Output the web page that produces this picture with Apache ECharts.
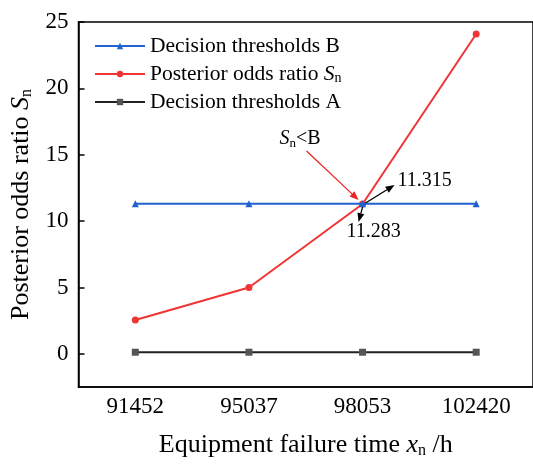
<!DOCTYPE html>
<html>
<head>
<meta charset="utf-8">
<script src="https://cdn.jsdelivr.net/npm/echarts@6/dist/echarts.min.js"></script>
<style>
  html, body { margin: 0; padding: 0; background: #fff; }
  #chart { width: 533px; height: 464px; }
</style>
</head>
<body>
<div id="chart"></div>
<script>
var categories = ['91452', '95037', '98053', '102420'];
var thresholdB = [11.315, 11.315, 11.315, 11.315];
var oddsRatio = [2.55, 5.0, 11.283, 24.1];
var thresholdA = [0.12, 0.12, 0.12, 0.12];
var yTicks = [0, 5, 10, 15, 20, 25];

var FONT = '"Liberation Serif", "Times New Roman", serif';

function subRich(size, subSize, pad) {
  return {
    t: { fontFamily: FONT, fontSize: size, color: '#000' },
    s: { fontFamily: FONT, fontStyle: 'italic', fontSize: size, color: '#000' },
    n: { fontFamily: FONT, fontSize: subSize, color: '#000', verticalAlign: 'bottom', padding: [pad, 0, 0, 0] }
  };
}

var chart = echarts.init(document.getElementById('chart'));

chart.setOption({
  animation: false,
  textStyle: { fontFamily: FONT },
  grid: {
    left: 77, top: 22, right: -4, bottom: 72,
    show: true, borderColor: '#000', borderWidth: 1.5
  },
  legend: {
    left: 89, top: 30, orient: 'vertical',
    itemWidth: 50, itemHeight: 8, itemGap: 6,
    textStyle: { fontFamily: FONT, fontSize: 21.5, color: '#000', rich: subRich(21.5, 14, 8) },
    data: ['B', 'S', 'A'],
    formatter: function (name) {
      if (name === 'B') return '{t|Decision thresholds B}';
      if (name === 'A') return '{t|Decision thresholds A}';
      return '{t|Posterior odds ratio }{s|S}{n|n}';
    }
  },
  xAxis: {
    type: 'category',
    data: categories,
    boundaryGap: true,
    axisLine: { onZero: false, lineStyle: { color: '#000', width: 1.5 } },
    axisTick: { alignWithLabel: true, inside: true, length: 6, lineStyle: { color: '#000', width: 1.5 } },
    axisLabel: { fontFamily: FONT, fontSize: 23, color: '#000', margin: 8 },
    name: '{t|Equipment failure time }{s|x}{n|n}{t| /h}',
    nameLocation: 'middle',
    nameGap: 45,
    nameTextStyle: { fontFamily: FONT, fontSize: 26, color: '#000', rich: subRich(26, 16, 11) }
  },
  yAxis: {
    type: 'value',
    min: -2.5, max: 25,
    splitLine: { show: false },
    axisLine: { show: true, lineStyle: { color: '#000', width: 1.5 } },
    axisTick: { show: true, inside: true, length: 6, customValues: yTicks, lineStyle: { color: '#000', width: 1.5 } },
    axisLabel: { fontFamily: FONT, fontSize: 23, color: '#000', margin: 10, customValues: yTicks },
    name: '{t|Posterior odds ratio }{s|S}{n|n}',
    nameLocation: 'middle',
    nameGap: 44,
    nameTextStyle: { fontFamily: FONT, fontSize: 26, color: '#000', rich: subRich(26, 16, 11) }
  },
  series: [
    {
      name: 'B', type: 'line', data: thresholdB,
      symbol: 'triangle', symbolSize: 7,
      lineStyle: { color: '#1F62D0', width: 2 },
      itemStyle: { color: '#1F62D0' }, z: 3
    },
    {
      name: 'S', type: 'line', data: oddsRatio,
      symbol: 'circle', symbolSize: 7,
      lineStyle: { color: '#F03434', width: 2 },
      itemStyle: { color: '#F03434' }, z: 2
    },
    {
      name: 'A', type: 'line', data: thresholdA,
      symbol: 'rect', symbolSize: 7,
      lineStyle: { color: '#222', width: 1.8 },
      itemStyle: { color: '#555' }, z: 2
    }
  ]
});

// annotations anchored on the crossing point
function arrow(x1, y1, x2, y2, color) {
  var a = Math.atan2(y2 - y1, x2 - x1), L = 9, W = 3.5;
  var bx = x2 - L * Math.cos(a), by = y2 - L * Math.sin(a);
  return [
    { type: 'line', shape: { x1: x1, y1: y1, x2: bx, y2: by }, style: { stroke: color, lineWidth: 1.3 }, z: 10 },
    { type: 'polygon', shape: { points: [[x2, y2],
      [bx + W * Math.sin(a), by - W * Math.cos(a)],
      [bx - W * Math.sin(a), by + W * Math.cos(a)]] }, style: { fill: color }, z: 10 }
  ];
}

var p = chart.convertToPixel({ seriesIndex: 1 }, [2, oddsRatio[2]]);
var px = p[0], py = p[1];
var g = [];
g = g.concat(arrow(px - 56, py - 53, px - 4, py - 4, '#F02020'));
g = g.concat(arrow(px + 3, py - 1, px + 32, py - 19, '#000'));
g = g.concat(arrow(px, py + 3, px - 4, py + 18, '#000'));
g.push({ type: 'text', x: px - 83, y: py - 76, z: 10,
  style: { text: '{s|S}{n|n}{t|<B}', rich: {
    s: { fontFamily: FONT, fontStyle: 'italic', fontSize: 20, fill: '#000' },
    n: { fontFamily: FONT, fontSize: 13, fill: '#000', padding: [9, 0, 0, 0] },
    t: { fontFamily: FONT, fontSize: 20, fill: '#000' }
  } } });
g.push({ type: 'text', x: px + 35, y: py - 33, z: 10,
  style: { text: '11.315', fontFamily: FONT, fontSize: 20, fill: '#000' } });
g.push({ type: 'text', x: px - 16, y: py + 18, z: 10,
  style: { text: '11.283', fontFamily: FONT, fontSize: 20, fill: '#000' } });
chart.setOption({ graphic: g });
</script>
</body>
</html>
